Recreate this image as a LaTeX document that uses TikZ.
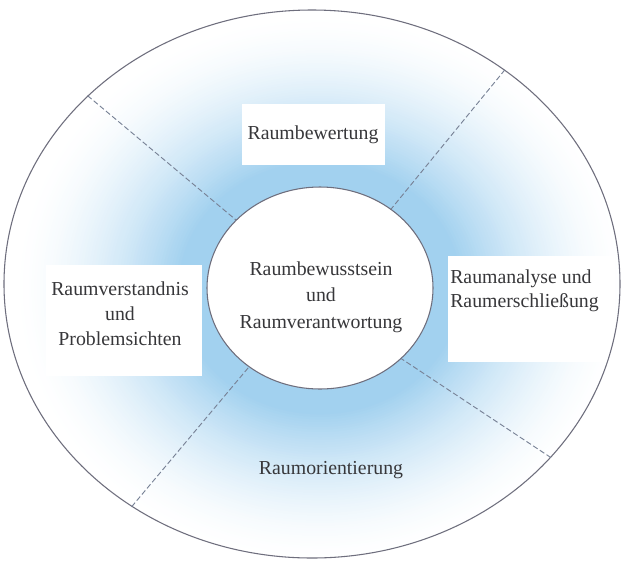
\documentclass[tikz,border=0pt]{standalone}
\usepackage{fontspec}
\setmainfont{Liberation Serif}
\newfontfamily\timesface{Liberation Serif}
\usetikzlibrary{shapes.geometric}
\definecolor{glowblue}{RGB}{162,209,239}
\definecolor{rimgray}{RGB}{110,110,125}
\definecolor{divgray}{RGB}{120,130,150}
\definecolor{txtgray}{RGB}{55,55,58}
\tikzset{
  rim/.style={draw=rimgray, line width=0.8pt},
  divider/.style={draw=divgray, line width=0.7pt, dash pattern=on 4pt off 2pt},
  label/.style={text=txtgray, inner sep=0pt, font=\timesface\fontsize{14.85}{19.5}\selectfont},
}
\begin{document}
\begin{tikzpicture}[x=0.75pt,y=-0.75pt]
\useasboundingbox (0,0) rectangle (622,562);
\fill[white] (0,0) rectangle (622,562);
% soft blue glow: concentric ellipses fading outward
\foreach \k in {0,...,68}{
  \pgfmathsetmacro{\s}{2.7-\k*0.025}
  \pgfmathsetmacro{\p}{min(100,100*((2.7-\s)/1.45)^1.6)}
  \fill[glowblue!\p!white] (320,288) ellipse [x radius={113*\s}, y radius={101*\s}];
}
% white label boxes
\fill[white] (242,104) rectangle (385,165);
\fill[white] (46,265) rectangle (202,376);
\fill[white] (448,256) rectangle (615,362);
% outside of the outer ellipse stays white
\fill[white, even odd rule] (0,0) rectangle (622,562) (312,284) ellipse [x radius=308, y radius=274];
\node[rim, ellipse, inner sep=0pt, minimum width=462pt, minimum height=411pt] (outer) at (312,284) {};
% inner circle reference
\node[ellipse, inner sep=0pt, minimum width=169.5pt, minimum height=151.5pt] (innerref) at (320,288) {};
% dividing lines
\draw[divider] (outer.140) -- (innerref.141);
\draw[divider] (outer.48.6) -- (innerref.48);
\draw[divider] (outer.231) -- (innerref.228);
\draw[divider] (outer.-36) -- (innerref.-41);
\node[rim, fill=white, ellipse, inner sep=0pt, minimum width=169.5pt, minimum height=151.5pt] (inner) at (320,288) {};
% labels
\node[label, font=\timesface\fontsize{14.85}{19.9}\selectfont, align=center] (core) at (321,297) {Raumbewusstsein\\und\hspace*{16pt}\\Raumverantwortung};
\node[label] (top) at (313,134.4) {Raumbewertung};
\node[label, font=\timesface\fontsize{14.85}{18.75}\selectfont, align=center] (left) at (120,313.4) {Raumverstandnis\\und\\Problemsichten};
\node[label, font=\timesface\fontsize{14.85}{18}\selectfont, align=left, anchor=west] (right) at (450,290.4) {Raumanalyse und\\Raumerschließung};
\node[label] (bottom) at (331,470.4) {Raumorientierung};
\end{tikzpicture}
\end{document}
